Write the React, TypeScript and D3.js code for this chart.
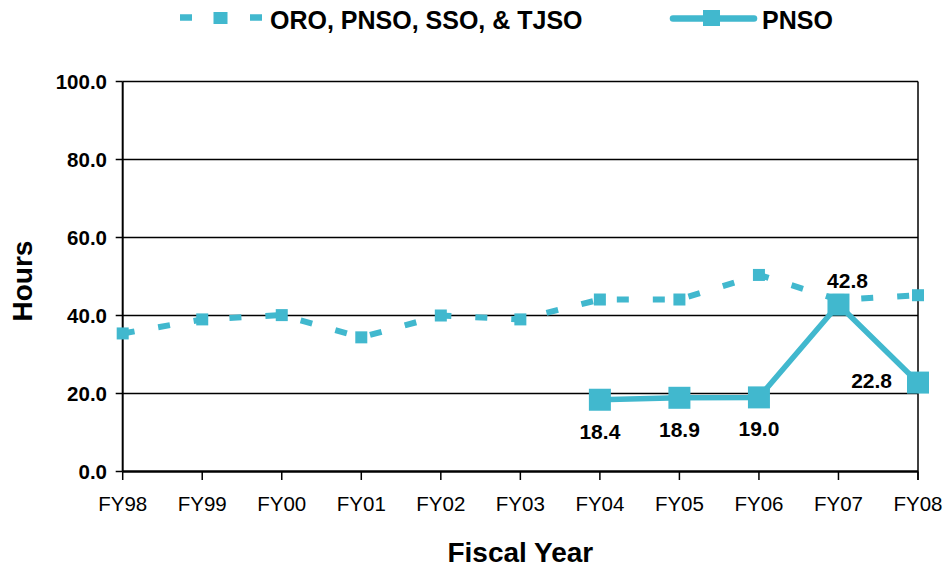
import React from "react";
import * as d3 from "d3";

const categories = ["FY98", "FY99", "FY00", "FY01", "FY02", "FY03", "FY04", "FY05", "FY06", "FY07", "FY08"];
const allSeries = [35.4, 39.0, 40.1, 34.4, 40.0, 39.0, 44.1, 44.1, 50.4, 44.0, 45.2];
const pnsoCats = ["FY04", "FY05", "FY06", "FY07", "FY08"];
const pnsoValues = [18.4, 18.9, 19.0, 42.8, 22.8];
const yTicks = [0, 20, 40, 60, 80, 100];
const legendLabels = ["ORO, PNSO, SSO, & TJSO", "PNSO"];

const COLOR = "#41B8CE";
const FONT = "'Liberation Sans', Arial, sans-serif";

export default function App() {
  const W = 947, H = 567;
  const left = 122.7, right = 918, top = 81.5, bottom = 471.5;
  const x = d3.scalePoint<string>().domain(categories).range([left, right]);
  const y = d3.scaleLinear().domain([0, 100]).range([bottom, top]);

  const line = d3.line<[string, number]>().x(d => x(d[0])!).y(d => y(d[1]));
  const allData: [string, number][] = categories.map((c, i) => [c, allSeries[i]]);
  const pnsoData: [string, number][] = pnsoCats.map((c, i) => [c, pnsoValues[i]]);

  const labelPos = (i: number, c: string, v: number) => {
    const px = x(c)!, py = y(v);
    if (c === "FY07") return { x: px + 9, y: py - 17, anchor: "middle" };
    if (c === "FY08") return { x: px - 26, y: py + 5, anchor: "end" };
    return { x: px, y: py + 39, anchor: "middle" };
  };

  return (
    <svg width={W} height={H} style={{ position: "absolute", left: 0, top: 0, background: "#fff" }} fontFamily={FONT}>
      {/* gridlines */}
      {yTicks.filter(t => t > 0).map(t => (
        <line key={t} x1={left} x2={right} y1={y(t)} y2={y(t)} stroke="#000" strokeWidth={1.5} />
      ))}
      {/* right border */}
      <line x1={right} x2={right} y1={top} y2={bottom + 8.5} stroke="#000" strokeWidth={1.5} />
      {/* left axis */}
      <line x1={left} x2={left} y1={top} y2={bottom} stroke="#000" strokeWidth={2} />
      {yTicks.map(t => (
        <g key={t}>
          <line x1={left - 7} x2={left} y1={y(t)} y2={y(t)} stroke="#000" strokeWidth={1.5} />
          <text x={107} y={y(t)} dy="0.36em" textAnchor="end" fontSize={20.5} fontWeight="bold">{t.toFixed(1)}</text>
        </g>
      ))}
      {/* bottom axis */}
      <line x1={left} x2={right} y1={bottom} y2={bottom} stroke="#000" strokeWidth={2.5} />
      {categories.map(c => (
        <g key={c}>
          <line x1={x(c)} x2={x(c)} y1={bottom} y2={bottom + 8.5} stroke="#000" strokeWidth={1.5} />
          <text x={x(c)} y={510.5} textAnchor="middle" fontSize={20.5}>{c}</text>
        </g>
      ))}
      <text x={(left + right) / 2} y={562} textAnchor="middle" fontSize={28} fontWeight="bold">Fiscal Year</text>
      <text transform="translate(32,281) rotate(-90)" textAnchor="middle" fontSize={28} fontWeight="bold">Hours</text>

      {/* dashed series */}
      <path d={line(allData)!} fill="none" stroke={COLOR} strokeWidth={6} strokeDasharray="12 24" />
      {allData.map(d => (
        <rect key={d[0]} x={x(d[0])! - 6} y={y(d[1]) - 6} width={12} height={12} fill={COLOR} />
      ))}

      {/* PNSO series */}
      <path d={line(pnsoData)!} fill="none" stroke={COLOR} strokeWidth={5.5} strokeLinejoin="miter" />
      {pnsoData.map(d => (
        <rect key={d[0]} x={x(d[0])! - 11} y={y(d[1]) - 11} width={22} height={22} fill={COLOR} />
      ))}
      {pnsoData.map((d, i) => {
        const p = labelPos(i, d[0], d[1]);
        return (
          <text key={"l" + d[0]} x={p.x} y={p.y} textAnchor={p.anchor as any} fontSize={21} fontWeight="bold">{d[1].toFixed(1)}</text>
        );
      })}

      {/* legend */}
      <line x1={180} x2={262} y1={17.5} y2={17.5} stroke={COLOR} strokeWidth={6.5} strokeDasharray="12 23" />
      <rect x={213.5} y={12} width={14} height={12} fill={COLOR} />
      <text x={270} y={29} fontSize={25} fontWeight="bold">{legendLabels[0]}</text>
      <line x1={673} x2={754} y1={18.5} y2={18.5} stroke={COLOR} strokeWidth={6.5} strokeLinecap="round" />
      <rect x={703} y={10} width={17} height={16} fill={COLOR} />
      <text x={762} y={28.5} fontSize={25} fontWeight="bold">{legendLabels[1]}</text>
    </svg>
  );
}
